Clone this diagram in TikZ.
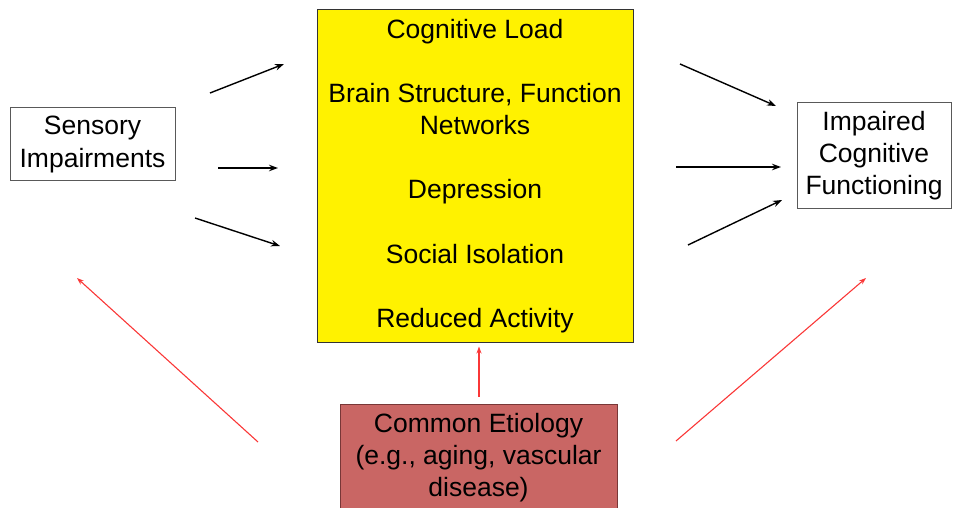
\documentclass[tikz,border=0pt]{standalone}
\usepackage{fontspec}
\setmainfont{Liberation Sans}
\usetikzlibrary{arrows.meta}
\definecolor{etiofill}{RGB}{201,102,100}
\definecolor{etiodraw}{RGB}{120,55,55}
\definecolor{arrred}{RGB}{250,55,55}
\tikzset{
  box/.style={draw=black!65,line width=1pt,fill=white,align=center,inner sep=0pt,
    execute at begin node=\rule{0pt}{31pt}},
  arr/.style={line width=1.4pt,-{Stealth[length=9pt,width=6.5pt]}},
  redarr/.style={draw=arrred,line width=1.1pt,-{Stealth[length=7pt,width=5pt]}}
}
\begin{document}
\begin{tikzpicture}[x=1pt,y=-1pt,font=\fontsize{26.5}{32.1}\selectfont]
\useasboundingbox (0,0) rectangle (959,508);
\node[box,minimum width=165pt,minimum height=73pt](sens) at (92.5,144.5){Sensory\\Impairments};
\node[box,minimum width=154pt,minimum height=105pt](impair) at (874,155.5){Impaired\\Cognitive\\Functioning};
\node[box,draw=black!80,fill=yellow,minimum width=316pt,minimum height=332pt](med) at (475,176)
  {Cognitive Load\\[32.1pt]Brain Structure, Function\\Networks\\[32.1pt]Depression\\[32.1pt]Social Isolation\\[32.1pt]Reduced Activity};
\node[box,draw=etiodraw,fill=etiofill,minimum width=277pt,minimum height=108pt](etio) at (478.5,458){Common Etiology\\(e.g., aging, vascular\\disease)};
\coordinate(l1a) at (210,93);  \coordinate(l1b) at (284,64);
\coordinate(l2a) at (218,168); \coordinate(l2b) at (278,168);
\coordinate(l3a) at (195,218); \coordinate(l3b) at (280,246);
\coordinate(r1a) at (680,64);  \coordinate(r1b) at (776,106);
\coordinate(r2a) at (676,167); \coordinate(r2b) at (781,167);
\coordinate(r3a) at (688,245); \coordinate(r3b) at (782,200);
\draw[arr](l1a)--(l1b);
\draw[arr](l2a)--(l2b);
\draw[arr](l3a)--(l3b);
\draw[arr](r1a)--(r1b);
\draw[arr](r2a)--(r2b);
\draw[arr](r3a)--(r3b);
\coordinate(el) at (258,442); \coordinate(sl) at (77,278);
\coordinate(er) at (676,441); \coordinate(sr) at (866,278);
\draw[redarr](el)--(sl);
\draw[redarr](etio.north -| 479,0)++(0,-7)--++(0,-50);
\draw[redarr](er)--(sr);
\end{tikzpicture}
\end{document}
